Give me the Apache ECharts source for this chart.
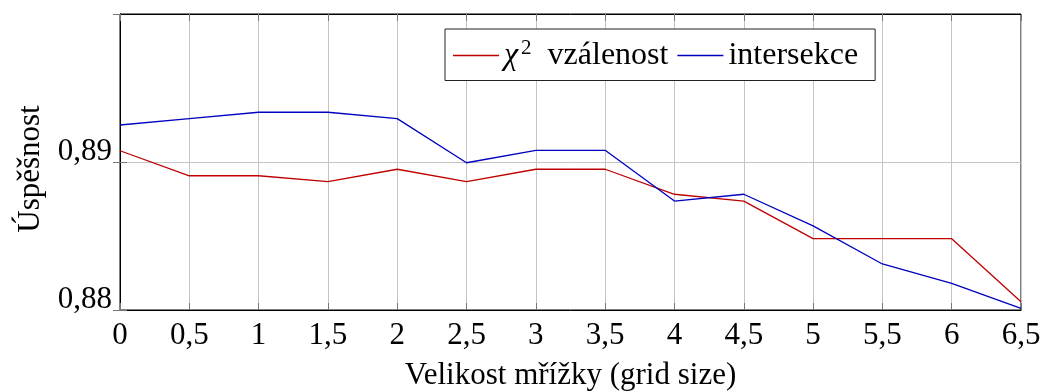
<!DOCTYPE html>
<html>
<head>
<meta charset="utf-8">
<script src="https://cdn.jsdelivr.net/npm/echarts@6/dist/echarts.min.js"></script>
<style>
  html, body { margin: 0; padding: 0; background: #fff; }
  #chart { width: 1045px; height: 391px; }
</style>
</head>
<body>
<div id="chart"></div>
<script>
// Grid size (x) and success rate of the two methods
const gridSizes = [0, 0.5, 1, 1.5, 2, 2.5, 3, 3.5, 4, 4.5, 5, 5.5, 6, 6.5];
const chiSquare = [0.89076, 0.88907, 0.88907, 0.88867, 0.88951, 0.88867, 0.88951,
                   0.88951, 0.88782, 0.88736, 0.88482, 0.88482, 0.88482, 0.88056];
const intersection = [0.8925, 0.89293, 0.89336, 0.89336, 0.89293, 0.88995, 0.89079,
                      0.89079, 0.88736, 0.88782, 0.88568, 0.88311, 0.8818, 0.88011];
const seriesNames = ['χ² vzálenost', 'intersekce'];
const seriesColors = ['#bf0000', '#0000bf'];
const xTitle = 'Velikost mřížky (grid size)';
const yTitle = 'Úspěšnost';

const FONT = '"Liberation Serif", "DejaVu Serif", serif';
const FS = 31;
const fmtNum = v => String(Math.round(v * 1000) / 1000).replace('.', ',');

const chart = echarts.init(document.getElementById('chart'), null, { renderer: 'canvas' });

const tickStyle = { show: true, inside: true, length: 7, lineStyle: { color: '#777', width: 1 } };

chart.setOption({
  animation: false,
  backgroundColor: '#fff',
  textStyle: { fontFamily: FONT },
  grid: {
    left: 120, right: 24, top: 14, bottom: 81,
    outerBoundsMode: 'none', containLabel: false,
    show: true, borderColor: '#000', borderWidth: 1, backgroundColor: 'transparent'
  },
  legend: {
    left: 445, top: 29,
    padding: [9, 17, 9, 8],
    borderColor: '#222', borderWidth: 1, backgroundColor: '#fff',
    icon: 'rect', itemWidth: 46, itemHeight: 1.3, itemGap: 9,
    data: seriesNames,
    formatter: n => n.replace('χ²', '{i|χ}{s|2}'),
    textStyle: {
      fontFamily: FONT, fontSize: 32, color: '#000',
      rich: {
        i: { fontFamily: FONT, fontSize: 32, fontStyle: 'italic', color: '#000' },
        s: { fontFamily: FONT, fontSize: 21, color: '#000', padding: [0, 8, 14, 3] }
      }
    }
  },
  xAxis: [{
    type: 'value', min: 0, max: 6.5, interval: 0.5,
    name: xTitle, nameLocation: 'middle', nameGap: 50,
    nameTextStyle: { fontFamily: FONT, fontSize: FS, color: '#000' },
    axisLine: { show: true, lineStyle: { color: '#000', width: 1 } },
    axisTick: tickStyle,
    axisLabel: { fontFamily: FONT, fontSize: FS, color: '#000', margin: 10, formatter: fmtNum },
    splitLine: { show: true, lineStyle: { color: '#c4c4c4', width: 1 } }
  }, {
    type: 'value', position: 'top', min: 0, max: 6.5, interval: 0.5,
    axisLine: { show: true, lineStyle: { color: '#000', width: 1 } },
    axisTick: tickStyle, axisLabel: { show: false }, splitLine: { show: false }
  }],
  yAxis: [{
    type: 'value', min: 0.88, max: 0.90, interval: 0.01,
    name: yTitle, nameLocation: 'middle', nameGap: 73, nameRotate: 90,
    nameTextStyle: { fontFamily: FONT, fontSize: FS, color: '#000', padding: [0, 14, 0, 0] },
    axisLine: { show: true, lineStyle: { color: '#000', width: 1 } },
    axisTick: tickStyle,
    axisLabel: {
      fontFamily: FONT, fontSize: FS, color: '#000', margin: 8,
      showMaxLabel: false, verticalAlign: 'bottom', lineHeight: 20,
      formatter: v => v.toFixed(2).replace('.', ',')
    },
    splitLine: { show: true, lineStyle: { color: '#c4c4c4', width: 1 } }
  }, {
    type: 'value', position: 'right', min: 0.88, max: 0.90, interval: 0.01,
    axisLine: { show: true, lineStyle: { color: '#000', width: 1 } },
    axisTick: tickStyle, axisLabel: { show: false }, splitLine: { show: false }
  }],
  series: [{
    name: seriesNames[0], type: 'line', symbol: 'none',
    data: gridSizes.map((x, i) => [x, chiSquare[i]]),
    lineStyle: { color: seriesColors[0], width: 1.3 }, itemStyle: { color: seriesColors[0] }
  }, {
    name: seriesNames[1], type: 'line', symbol: 'none',
    data: gridSizes.map((x, i) => [x, intersection[i]]),
    lineStyle: { color: seriesColors[1], width: 1.3 }, itemStyle: { color: seriesColors[1] }
  }]
});
</script>
</body>
</html>
